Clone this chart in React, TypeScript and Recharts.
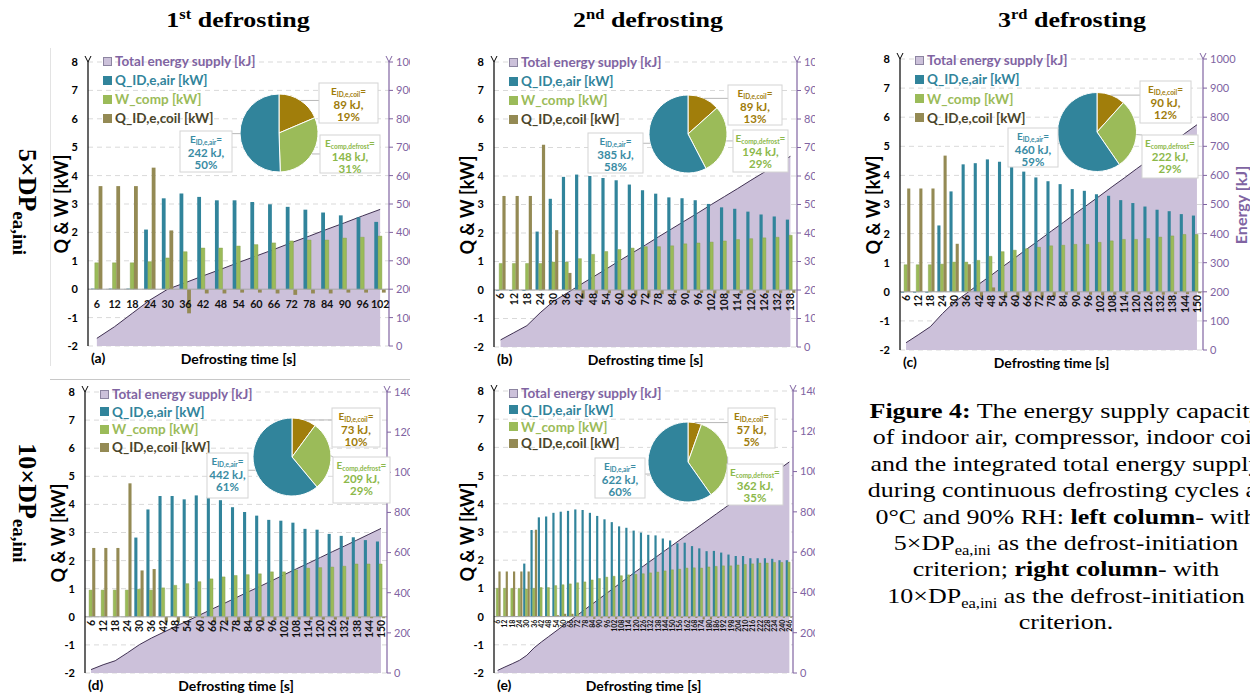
import React from 'react';
import { Area, Bar, CartesianGrid, Cell, ComposedChart, Pie, PieChart, ReferenceLine, XAxis, YAxis } from 'recharts';

document.body.style.margin = '0';

const BLUE = '#31849B';
const GREEN = '#9BBB59';
const OLIVE = '#948A54';
const GOLD = '#A17E0B';
const PURPLE = '#8064A2';
const LILAC = '#CCC1DA';
const SANS = 'Lato, "Noto Sans", sans-serif';
const SERIF = '"Liberation Serif", "Times New Roman", serif';

const seriesNames = ['Total energy supply [kJ]', 'Q_ID,e,air [kW]', 'W_comp [kW]', 'Q_ID,e,coil [kW]'];
const seriesText = [PURPLE, BLUE, GREEN, '#4A452A'];
const swatch = [LILAC, BLUE, GREEN, OLIVE];
const qTicks = [-2, -1, 0, 1, 2, 3, 4, 5, 6, 7, 8];
const eTicks1000 = [0, 100, 200, 300, 400, 500, 600, 700, 800, 900, 1000];
const eTicks1400 = [0, 200, 400, 600, 800, 1000, 1200, 1400];

const pieNames = ['ID,e,coil', 'comp,defrost', 'ID,e,air'];
const pieFill = [GOLD, GREEN, BLUE];
const pieText = ['#A07C0A', '#8CB84A', '#3A8CA4'];

// (a) 1st defrosting, 5xDP
const timeA = [6, 12, 18, 24, 30, 36, 42, 48, 54, 60, 66, 72, 78, 84, 90, 96, 102];
const airA = [0.02, 0.02, 0.02, 2.1, 3.2, 3.37, 3.25, 3.13, 3.13, 3.07, 2.99, 2.9, 2.8, 2.7, 2.6, 2.53, 2.37];
const compA = [0.93, 0.93, 0.93, 0.97, 1.1, 1.32, 1.45, 1.45, 1.52, 1.57, 1.63, 1.7, 1.73, 1.73, 1.8, 1.83, 1.87];
const coilA = [3.63, 3.63, 3.63, 4.28, 2.07, -0.85, -0.15, -0.15, -0.12, -0.12, -0.15, -0.2, -0.15, -0.15, -0.12, -0.12, -0.12];
const energyA = [27, 68, 115, 162, 200, 223, 247, 270, 294, 317, 340, 364, 387, 411, 434, 458, 481];
const pieA = [89, 148, 242];
const pctA = [19, 31, 50];

// (b) 2nd defrosting, 5xDP
const timeB = [6, 12, 18, 24, 30, 36, 42, 48, 54, 60, 66, 72, 78, 84, 90, 96, 102, 108, 114, 120, 126, 132, 138];
const airB = [-0.03, -0.03, -0.03, 2.05, 3.2, 3.97, 4.05, 4.0, 3.93, 3.85, 3.7, 3.5, 3.38, 3.25, 3.22, 3.15, 3.02, 2.9, 2.85, 2.75, 2.65, 2.58, 2.47];
const compB = [0.93, 0.93, 0.93, 0.93, 0.98, 0.98, 1.1, 1.25, 1.35, 1.42, 1.47, 1.52, 1.52, 1.55, 1.62, 1.65, 1.68, 1.72, 1.77, 1.8, 1.83, 1.85, 1.92];
const coilB = [3.3, 3.3, 3.3, 5.1, 2.1, 0.6, -0.3, -0.13, -0.12, -0.25, -0.2, -0.25, -0.15, -0.1, -0.1, -0.1, -0.12, -0.12, -0.12, -0.1, -0.1, -0.1, -0.1];
const energyB = [25, 50, 75, 120, 160, 188, 217, 245, 273, 302, 330, 358, 387, 415, 443, 471, 500, 528, 556, 585, 613, 641, 669];
const pieB = [89, 194, 385];
const pctB = [13, 29, 58];

// (c) 3rd defrosting, 5xDP
const timeC = [6, 12, 18, 24, 30, 36, 42, 48, 54, 60, 66, 72, 78, 84, 90, 96, 102, 108, 114, 120, 126, 132, 138, 144, 150];
const airC = [-0.03, -0.03, -0.03, 2.28, 3.45, 4.38, 4.42, 4.55, 4.47, 4.32, 4.13, 3.93, 3.8, 3.7, 3.53, 3.47, 3.35, 3.3, 3.15, 3.05, 2.93, 2.82, 2.77, 2.67, 2.62];
const compC = [0.93, 0.93, 0.93, 0.95, 1.02, 1.02, 1.08, 1.22, 1.38, 1.43, 1.48, 1.53, 1.58, 1.6, 1.63, 1.63, 1.7, 1.75, 1.8, 1.8, 1.83, 1.88, 1.92, 1.97, 1.97];
const coilC = [3.55, 3.55, 3.55, 4.68, 1.65, 0.95, -0.17, 0.15, -0.2, -0.2, -0.2, -0.2, -0.17, -0.1, -0.1, -0.1, -0.12, -0.1, -0.08, -0.08, -0.08, -0.1, -0.08, -0.08, -0.05];
const energyC = [25, 52, 80, 125, 165, 195, 226, 256, 287, 317, 348, 378, 409, 439, 470, 500, 530, 561, 591, 622, 652, 683, 713, 744, 774];
const pieC = [90, 222, 460];
const pctC = [12, 29, 59];

// (d) 1st defrosting, 10xDP
const timeD = [6, 12, 18, 24, 30, 36, 42, 48, 54, 60, 66, 72, 78, 84, 90, 96, 102, 108, 114, 120, 126, 132, 138, 144, 150];
const airD = [0, 0, 0, 0, 2.82, 3.82, 4.3, 4.3, 4.18, 4.32, 4.27, 4.15, 3.9, 3.73, 3.6, 3.45, 3.42, 3.35, 3.13, 3.1, 2.95, 2.88, 2.83, 2.73, 2.68];
const compD = [0.95, 0.95, 0.95, 0.95, 0.98, 0.95, 1.03, 1.12, 1.18, 1.25, 1.35, 1.42, 1.47, 1.5, 1.53, 1.6, 1.6, 1.67, 1.73, 1.75, 1.77, 1.8, 1.88, 1.88, 1.88];
const coilD = [2.45, 2.45, 2.45, 4.75, 1.65, 1.7, -0.2, -0.2, -0.05, -0.05, -0.2, -0.2, -0.2, -0.15, -0.15, -0.12, -0.1, -0.1, -0.1, -0.1, -0.1, -0.1, -0.05, -0.05, -0.05];
const energyD = [17, 41, 61, 100, 141, 174, 203, 232, 260, 289, 318, 346, 375, 404, 432, 461, 490, 519, 547, 576, 605, 633, 662, 691, 720];
const pieD = [73, 209, 442];
const pctD = [10, 29, 61];

// (e) 2nd defrosting, 10xDP
const timeE = [6, 12, 18, 24, 30, 36, 42, 48, 54, 60, 66, 72, 78, 84, 90, 96, 102, 108, 114, 120, 126, 132, 138, 144, 150, 156, 162, 168, 174, 180, 186, 192, 198, 204, 210, 216, 222, 228, 234, 240, 246];
const airE = [0.02, 0.02, 0.02, 0.02, 1.88, 3.07, 3.52, 3.55, 3.68, 3.72, 3.75, 3.8, 3.78, 3.68, 3.57, 3.45, 3.35, 3.2, 3.15, 3.05, 2.98, 2.9, 2.88, 2.77, 2.7, 2.6, 2.62, 2.5, 2.42, 2.32, 2.33, 2.27, 2.2, 2.15, 2.15, 2.07, 2.07, 2.07, 2.05, 2.0, 2.0];
const compE = [1.0, 1.0, 1.0, 1.0, 0.98, 1.0, 1.03, 1.03, 1.1, 1.13, 1.16, 1.2, 1.23, 1.3, 1.35, 1.4, 1.43, 1.45, 1.48, 1.5, 1.52, 1.55, 1.58, 1.62, 1.66, 1.68, 1.72, 1.73, 1.72, 1.76, 1.78, 1.8, 1.8, 1.83, 1.85, 1.87, 1.9, 1.9, 1.92, 1.92, 1.93];
const coilE = [1.6, 1.6, 1.6, 1.6, 1.6, 3.08, 0.0, 0.02, 0.05, 0.1, 0.1, 0.02, -0.03, -0.08, -0.06, -0.06, -0.08, -0.06, -0.06, -0.08, -0.06, -0.06, -0.06, -0.08, -0.06, -0.05, -0.06, -0.05, -0.1, -0.1, -0.05, -0.05, -0.05, -0.05, -0.05, -0.05, -0.04, -0.04, -0.04, -0.04, -0.04];
const energyE = [13, 30, 46, 63, 88, 125, 154, 181, 208, 235, 262, 289, 316, 343, 370, 397, 424, 451, 478, 505, 531, 557, 583, 609, 635, 661, 687, 712, 738, 764, 790, 816, 842, 868, 893, 919, 945, 971, 997, 1022, 1048];
const pieE = [57, 362, 622];
const pctE = [5, 35, 60];

type Layout = {
  id: string; tag: string; left: number; right: number; top: number; bottom: number;
  clip: number[]; eMax: number; eTicks: number[]; rotate: boolean; fs: number; bar: number;
  legTop: number; legStep: number; pie: number[]; boxes: number[][];
};

const LA: Layout = { id: 'a', tag: '(a)', left: 88, right: 389, top: 62, bottom: 346, clip: [48, 48, 410, 377], eMax: 1000, eTicks: eTicks1000, rotate: false, fs: 10.8, bar: 3.8, legTop: 61, legStep: 19, pie: [274, 128, 39], boxes: [[40, -50, 59, 40], [41, 2, 60, 38], [-99, -2, 52, 41]] };
const LB: Layout = { id: 'b', tag: '(b)', left: 494, right: 797, top: 62, bottom: 347, clip: [455, 48, 815, 377], eMax: 1000, eTicks: eTicks1000, rotate: true, fs: 10.5, bar: 3.2, legTop: 62, legStep: 19, pie: [683, 129, 39], boxes: [[40, -49, 54, 40], [45, -4, 55, 42], [-100, -1, 55, 40]] };
const LC: Layout = { id: 'c', tag: '(c)', left: 900, right: 1203, top: 59, bottom: 350, clip: [862, 48, 1250, 377], eMax: 1000, eTicks: eTicks1000, rotate: true, fs: 10.5, bar: 3.1, legTop: 60, legStep: 19.3, pie: [1092, 127, 39.5], boxes: [[43, -51, 51, 42], [45, 3, 56, 43], [-89, -4, 50, 39]] };
const LD: Layout = { id: 'd', tag: '(d)', left: 85, right: 387, top: 392, bottom: 673, clip: [40, 381, 410, 698], eMax: 1400, eTicks: eTicks1400, rotate: true, fs: 10.5, bar: 3.1, legTop: 394, legStep: 17.7, pie: [287, 452, 39], boxes: [[40, -49, 48, 39], [41, 0, 57, 46], [-85, -4, 41, 45]] };
const LE: Layout = { id: 'e', tag: '(e)', left: 494, right: 793, top: 391, bottom: 673, clip: [455, 381, 815, 698], eMax: 1400, eTicks: eTicks1400, rotate: true, fs: 7, bar: 2.2, legTop: 393, legStep: 16.8, pie: [683, 457, 40], boxes: [[40, -54, 47, 40], [39, 2, 56, 41], [-93, -4, 50, 40]] };

function VText({ x, y, deg = -90, style, children }: any) {
  return (
    <div style={{ position: 'absolute', left: x, top: y, transform: `translate(-50%,-50%) rotate(${deg}deg)`, whiteSpace: 'nowrap', ...style }}>
      {children}
    </div>
  );
}

function Panel({ L, time, air, comp, coil, energy, pie, pct }: any) {
  const pw = L.right - L.left;
  const ph = L.bottom - L.top;
  const ML = 60, MR = 70, MT = 12, MB = 40;
  const rows = time.map((t: number, i: number) => ({ t, air: air[i], comp: comp[i], coil: coil[i], energy: energy[i] }));
  const y0 = MT + ph * 0.8;
  const pieRows = pie.map((v: number, i: number) => ({ name: pieNames[i], v }));
  const [c1, r1, c2, r2] = L.clip;

  const XTick = (p: any) => {
    const v = p.payload.value;
    if (!L.rotate) {
      return <text x={p.x} y={y0 + 14} textAnchor="middle" dominantBaseline="central" fontSize={L.fs} fontWeight={700} fontFamily={SANS} fill="#111" letterSpacing={-0.2}>{v}</text>;
    }
    const ax = p.x + L.fs * 0.36;
    const ay = y0 + 3;
    return <text x={ax} y={ay} transform={`rotate(-90 ${ax} ${ay})`} textAnchor="end" fontSize={L.fs} fontWeight={700} fontFamily={SANS} fill="#111">{v}</text>;
  };

  const renderBox = (p: any) => {
    const i = p.index;
    const [dx, dy, w, h] = L.boxes[i];
    const bx = p.cx + dx, by = p.cy + dy;
    const a = (-p.midAngle * Math.PI) / 180;
    const sx = p.cx + p.outerRadius * Math.cos(a), sy = p.cy + p.outerRadius * Math.sin(a);
    const ex = Math.min(Math.max(sx, bx), bx + w), ey = Math.min(Math.max(sy, by), by + h);
    const c = pieText[i];
    const tx = bx + w / 2;
    return (
      <g key={`box-${i}`}>
        <line x1={sx} y1={sy} x2={ex} y2={ey} stroke="#A6A6A6" strokeWidth={0.8} />
        <rect x={bx} y={by} width={w} height={h} fill="#fff" stroke="#D4D4D4" strokeWidth={1} />
        <text x={tx} y={by + 12} textAnchor="middle" fontFamily={SANS} fontWeight={700} fontSize={10} fill={c}>
          E<tspan fontSize={6.5} dy={2}>{pieNames[i]}</tspan><tspan dy={-2}>=</tspan>
        </text>
        <text x={tx} y={by + 25.5} textAnchor="middle" fontFamily={SANS} fontWeight={700} fontSize={11.5} fill={c}>{`${pie[i]} kJ,`}</text>
        <text x={tx} y={by + 38} textAnchor="middle" fontFamily={SANS} fontWeight={700} fontSize={11.5} fill={c}>{`${pct[i]}%`}</text>
      </g>
    );
  };

  return (
    <div style={{ position: 'absolute', left: c1, top: r1, width: c2 - c1, height: r2 - r1, overflow: 'hidden' }}>
      <div style={{ position: 'absolute', left: -c1, top: -r1, width: 1250, height: 698 }}>
        <div style={{ position: 'absolute', left: L.left - ML, top: L.top - MT }}>
          <ComposedChart width={ML + pw + MR} height={MT + ph + MB} data={rows} margin={{ top: MT, right: 0, bottom: 0, left: 0 }} barGap={0} barSize={L.bar}>
            <defs>
              <marker id={`ak-${L.id}`} markerWidth={8} markerHeight={8} refX={1} refY={4} orient="auto-start-reverse" markerUnits="userSpaceOnUse">
                <path d="M7,1 L1,4 L7,7" fill="none" stroke="#000" strokeWidth={1} />
              </marker>
              <marker id={`ap-${L.id}`} markerWidth={8} markerHeight={8} refX={1} refY={4} orient="auto-start-reverse" markerUnits="userSpaceOnUse">
                <path d="M7,1 L1,4 L7,7" fill="none" stroke={PURPLE} strokeWidth={1} />
              </marker>
            </defs>
            <CartesianGrid yAxisId="q" vertical={false} stroke="#D9D9D9" strokeDasharray="5 4" />
            <XAxis dataKey="t" height={MB} interval={0} axisLine={false} tickLine={false} tickSize={0} tickMargin={0} tick={XTick} />
            <YAxis yAxisId="q" width={ML} domain={[-2, 8]} ticks={qTicks} interval={0} tickLine={false} tickMargin={4}
              axisLine={{ stroke: '#000', strokeWidth: 1.2, markerStart: `url(#ak-${L.id})` }}
              tick={{ fontSize: 11, fontWeight: 700, fill: '#000', fontFamily: SANS }} />
            <YAxis yAxisId="e" orientation="right" width={MR} domain={[0, L.eMax]} ticks={L.eTicks} interval={0} tickSize={4} tickMargin={3}
              axisLine={{ stroke: PURPLE, strokeWidth: 1.2, markerStart: `url(#ap-${L.id})` }}
              tickLine={{ stroke: PURPLE }}
              tick={{ fontSize: 11, fill: PURPLE, fontFamily: SANS }} />
            <Area yAxisId="e" dataKey="energy" type="linear" fill={LILAC} fillOpacity={1} stroke="#403152" strokeWidth={1} isAnimationActive={false} />
            <ReferenceLine yAxisId="q" y={0} stroke="#A6A6A6" strokeWidth={1} />
            <Bar yAxisId="q" dataKey="air" fill={BLUE} isAnimationActive={false} />
            <Bar yAxisId="q" dataKey="comp" fill={GREEN} stroke="#7E9B45" strokeWidth={0.4} isAnimationActive={false} />
            <Bar yAxisId="q" dataKey="coil" fill={OLIVE} isAnimationActive={false} />
          </ComposedChart>
        </div>

        {seriesNames.map((n, i) => (
          <div key={n} style={{ position: 'absolute', left: L.left + 15, top: L.legTop + i * L.legStep - 9, height: 18, display: 'flex', alignItems: 'center', whiteSpace: 'nowrap', font: `700 13.5px ${SANS}`, color: seriesText[i] }}>
            <span style={{ display: 'inline-block', width: 9, height: 9, boxSizing: 'border-box', background: swatch[i], border: i === 0 ? '1px solid #8C84A0' : 'none', marginRight: 3 }} />
            {n}
          </div>
        ))}

        <div style={{ position: 'absolute', left: L.pie[0] - 120, top: L.pie[1] - 65 }}>
          <PieChart width={240} height={130}>
            <Pie data={pieRows} dataKey="v" nameKey="name" cx={120} cy={65} outerRadius={L.pie[2]} startAngle={90} endAngle={-270}
              stroke="#fff" strokeWidth={1} label={renderBox} labelLine={false} isAnimationActive={false}>
              {pieRows.map((r: any, i: number) => <Cell key={r.name} fill={pieFill[i]} />)}
            </Pie>
          </PieChart>
        </div>

        <VText x={L.left - 27} y={(L.top + L.bottom) / 2} style={{ font: `700 18px ${SANS}`, color: '#000' }}>Q &amp; W [kW]</VText>
        <VText x={L.right + 37} y={(L.top + L.bottom) / 2} style={{ font: `700 16px ${SANS}`, color: PURPLE }}>Energy [kJ]</VText>
        <div style={{ position: 'absolute', left: (L.left + L.right) / 2, top: L.bottom + 12, transform: 'translate(-50%,-50%)', whiteSpace: 'nowrap', font: `700 14px ${SANS}`, color: '#000' }}>Defrosting time [s]</div>
        <div style={{ position: 'absolute', left: L.left + 3, top: L.bottom + 11, transform: 'translateY(-50%)', whiteSpace: 'nowrap', font: `700 14px ${SANS}`, color: '#000' }}>{L.tag}</div>
      </div>
    </div>
  );
}

const headings = [
  { x: 238, n: '1', s: 'st' },
  { x: 648, n: '2', s: 'nd' },
  { x: 1072, n: '3', s: 'rd' },
];

export default function App() {
  return (
    <div style={{ position: 'relative', width: 1250, height: 698, overflow: 'hidden', background: '#fff', fontFamily: SERIF }}>
      {headings.map((h) => (
        <div key={h.n} style={{ position: 'absolute', left: h.x, top: 20, transform: 'translate(-50%,-50%) scaleX(1.18)', whiteSpace: 'nowrap', font: `700 22px ${SERIF}`, color: '#000' }}>
          {h.n}<sup style={{ fontSize: 14 }}>{h.s}</sup> defrosting
        </div>
      ))}

      <VText x={25} y={202} deg={90} style={{ font: `700 26px ${SERIF}`, color: '#000' }}>
        5×DP<sub style={{ fontSize: 19 }}>ea,ini</sub>
      </VText>
      <VText x={25} y={503} deg={90} style={{ font: `700 26px ${SERIF}`, color: '#000' }}>
        10×DP<sub style={{ fontSize: 19 }}>ea,ini</sub>
      </VText>

      <div style={{ position: 'absolute', left: 50, top: 48, width: 1, height: 318, background: '#E3E3E3' }} />
      <div style={{ position: 'absolute', left: 50, top: 379, width: 360, height: 1, background: '#C8C8C8' }} />

      <Panel L={LA} time={timeA} air={airA} comp={compA} coil={coilA} energy={energyA} pie={pieA} pct={pctA} />
      <Panel L={LB} time={timeB} air={airB} comp={compB} coil={coilB} energy={energyB} pie={pieB} pct={pctB} />
      <Panel L={LC} time={timeC} air={airC} comp={compC} coil={coilC} energy={energyC} pie={pieC} pct={pctC} />
      <Panel L={LD} time={timeD} air={airD} comp={compD} coil={coilD} energy={energyD} pie={pieD} pct={pctD} />
      <Panel L={LE} time={timeE} air={airE} comp={compE} coil={coilE} energy={energyE} pie={pieE} pct={pctE} />

      <div style={{ position: 'absolute', left: 866, top: 398, width: 400, textAlign: 'center', font: `22px ${SERIF}`, lineHeight: '26.4px', color: '#000', transform: 'scaleX(1.18)', whiteSpace: 'nowrap' }}>
        <div><b>Figure 4:</b> The energy supply capacity</div>
        <div>of indoor air, compressor, indoor coil</div>
        <div>and the integrated total energy supply</div>
        <div>during continuous defrosting cycles at</div>
        <div>0°C and 90% RH: <b>left column</b>- with</div>
        <div>5×DP<sub style={{ fontSize: 14, lineHeight: 0 }}>ea,ini</sub> as the defrost-initiation</div>
        <div>criterion; <b>right column</b>- with</div>
        <div>10×DP<sub style={{ fontSize: 14, lineHeight: 0 }}>ea,ini</sub> as the defrost-initiation</div>
        <div>criterion.</div>
      </div>
    </div>
  );
}
